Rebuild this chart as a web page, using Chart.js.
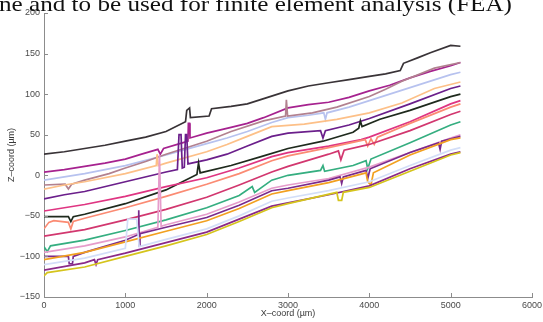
<!DOCTYPE html>
<html><head><meta charset="utf-8">
<script src="https://cdn.jsdelivr.net/npm/chart.js@4.4.0/dist/chart.umd.min.js"></script>
<style>
html,body{margin:0;padding:0;background:#fff;overflow:hidden;}
#wrap{position:relative;width:543px;height:322px;overflow:hidden;}
#cap{position:absolute;left:-1px;top:-7px;font-family:"Liberation Serif","Times New Roman",serif;font-size:22px;line-height:22px;white-space:nowrap;color:#111;transform-origin:0 0;}
canvas{position:absolute;left:0;top:0;}
</style></head><body>
<div id="wrap"><canvas id="c" width="543" height="322"></canvas><div id="cap">ne and to be used for finite element analysis (FEA)</div></div>
<script>
// ---- data (x in µm, z in µm) ----
const xTicks = [0, 1000, 2000, 3000, 4000, 5000, 6000];
const yTicks = [-150, -100, -50, 0, 50, 100, 150, 200];
const xTitle = 'X\u2013coord (\u00b5m)';
const yTitle = 'Z\u2013coord (\u00b5m)';

const profBlack = [[0,26],[250,29],[500,33],[750,37],[1000,42],[1250,47],[1500,54],[1740,66],[1755,80],[1790,83],[1800,71],[2030,73],[2060,82],[2300,85],[2500,88],[2750,96],[3000,104],[3250,110],[3500,114],[3750,118],[4000,122],[4200,125],[4380,129],[4420,138],[4600,145],[4750,151],[5000,160],[5120,159]];
const profMagenta = [[0,4],[250,7],[500,11],[750,15],[1000,20],[1200,26],[1400,32],[1430,26],[1470,33],[1700,40],[1770,42],[1775,64],[1790,64],[1795,46],[2000,52],[2300,59],[2500,64],[2700,71],[3000,83],[3250,87],[3500,90],[3750,96],[4000,104],[4250,111],[4500,120],[4750,128],[5000,135],[5120,139]];
const profLavender = [[0,-6],[250,-2],[500,2],[1000,12],[1500,25],[2000,39],[2250,46],[2500,54],[2800,65],[3000,71],[3250,74],[3440,77],[3460,69],[3480,77],[3750,84],[4000,92],[4500,108],[5000,124],[5120,127]];
const profMauve = [[0,-12],[260,-11],[300,-17],[340,-11],[500,-6],[800,2],[1000,9],[1250,17],[1500,26],[2000,42],[2300,54],[2700,67],[2970,73],[2980,93],[2995,73],[3300,77],[3600,84],[4000,97],[4200,106],[4400,116],[4800,132],[5120,139]];
const profPeach = [[0,-17],[250,-12],[500,-8],[1000,2],[1380,12],[1390,26],[1405,12],[1500,15],[2000,29],[2250,38],[2500,48],[2800,60],[3200,63],[3600,69],[4000,77],[4400,89],[4800,107],[5120,115]];
const profPurple = [[0,-29],[250,-24],[500,-20],[1000,-8],[1500,4],[1640,7],[1660,50],[1685,50],[1700,9],[1725,10],[1740,50],[1755,50],[1770,14],[2000,19],[2250,26],[2500,36],[2800,48],[3000,52],[3400,55],[3430,46],[3460,55],[3750,62],[4000,70],[4500,88],[5000,107],[5120,110]];
const profBlackGreen = [[0,-51],[300,-51],[330,-57],[360,-51],[500,-48],[1000,-35],[1500,-18],[1880,1],[1900,15],[1920,3],[2300,12],[2700,24],[3000,33],[3430,42],[3800,53],[3870,58],[3890,67],[3910,60],[4130,69],[4500,80],[5000,97],[5120,100]];
const profDeepPink = [[0,-44],[500,-36],[1000,-26],[1500,-14],[2000,-3],[2400,9],[2800,23],[3000,28],[3500,36],[3900,44],[4000,47],[4500,66],[5000,88],[5120,92]];
const profSalmon = [[0,-66],[60,-58],[120,-56],[300,-58],[330,-66],[360,-57],[500,-53],[1000,-40],[1500,-26],[2000,-11],[2400,2],[2800,18],[3000,24],[3500,34],[3950,44],[3980,36],[4020,45],[4060,38],[4100,47],[4500,64],[5000,84],[5120,88]];
const profCrimson = [[0,-75],[500,-67],[1000,-55],[1500,-42],[2000,-27],[2400,-12],[2800,4],[3000,11],[3500,26],[3620,30],[3650,19],[3690,31],[4000,38],[4500,55],[5000,75],[5120,79]];
const profGreen = [[0,-88],[40,-94],[80,-87],[500,-80],[1000,-68],[1500,-55],[2000,-40],[2400,-25],[2560,-14],[2590,-21],[2800,-6],[3000,0],[3400,6],[3430,12],[3450,5],[3800,12],[3960,18],[3980,8],[4020,20],[4500,40],[5000,62],[5120,66]];
const profLightPink = [[0,-95],[500,-87],[1000,-76],[1400,-64],[1420,25],[1440,-63],[1500,-61],[2000,-48],[2400,-33],[2800,-16],[3000,-12],[3500,-4],[4000,10],[4500,28],[5000,46],[5120,50]];
const profPurple2 = [[0,-100],[300,-100],[310,-109],[350,-109],[360,-100],[500,-95],[1000,-80],[1160,-73],[1165,-43],[1172,-87],[1180,-72],[1500,-64],[2000,-52],[2400,-37],[2800,-19],[3000,-16],[3500,-6],[3640,-2],[3660,-10],[3680,-2],[3960,6],[3980,-4],[4010,8],[4500,28],[4850,40],[4870,32],[4890,42],[5120,48]];
const profOrange = [[0,-104],[500,-95],[1000,-82],[1500,-69],[2000,-56],[2400,-41],[2800,-23],[3000,-19],[3500,-9],[3960,3],[3980,-8],[4020,-12],[4050,3],[4500,25],[5000,44],[5120,46]];
const profPaleBlue = [[0,-110],[500,-102],[1000,-90],[1030,-54],[1140,-54],[1170,-88],[1500,-79],[2000,-66],[2400,-50],[2800,-32],[3000,-28],[3500,-19],[4000,-8],[4500,12],[5000,31],[5120,34]];
const profPurple3 = [[0,-117],[500,-108],[620,-104],[640,-110],[660,-104],[1000,-96],[1500,-83],[2000,-70],[2400,-54],[2800,-38],[3000,-34],[3500,-24],[4000,-13],[4500,8],[5000,26],[5120,29]];
const profYellow = [[0,-124],[40,-120],[500,-113],[1000,-100],[1500,-87],[2000,-73],[2400,-57],[2800,-40],[3000,-35],[3600,-21],[3620,-31],[3660,-31],[3680,-21],[4000,-15],[4500,5],[5000,25],[5120,28]];

const profiles = [profYellow, profPurple3, profPaleBlue, profOrange, profPurple2, profLightPink, profGreen, profCrimson, profSalmon, profDeepPink, profBlackGreen, profPurple, profPeach, profMauve, profLavender, profMagenta, profBlack];
const colors = ['#d5c41c','#8a2a88','#d3def8','#f2a020','#7a2a8c','#e69ccb','#35ae80','#d2376f','#fb8b73','#df3582','#1f2a1d','#6b1f8b','#fdc088','#b2818f','#b7c2ef','#a6228f','#393337'];

// ---- chart ----
const inTicks = {
  id: 'inTicks',
  afterDraw(chart) {
    const {ctx, chartArea: a, scales: {x, y}} = chart;
    ctx.save();
    ctx.strokeStyle = '#8c8c8c';
    ctx.lineWidth = 1;
    xTicks.forEach(v => {
      const px = Math.round(x.getPixelForValue(v)) + 0.5;
      ctx.beginPath(); ctx.moveTo(px, a.bottom); ctx.lineTo(px, a.bottom - 4); ctx.stroke();
    });
    yTicks.forEach(v => {
      const py = Math.round(y.getPixelForValue(v)) + 0.5;
      ctx.beginPath(); ctx.moveTo(a.left, py); ctx.lineTo(a.left + 4, py); ctx.stroke();
    });
    ctx.restore();
  }
};

const tickFont = {family: '"Liberation Sans", Arial, sans-serif', size: 9};
new Chart(document.getElementById('c'), {
  type: 'line',
  data: {
    datasets: profiles.map((p, i) => ({
      data: p.map(([x, z]) => ({x, y: z})),
      borderColor: colors[i],
      borderWidth: 1.7,
      pointRadius: 0,
      tension: 0,
      fill: false
    }))
  },
  options: {
    responsive: false,
    animation: false,
    events: [],
    layout: {padding: {top: 13, right: 11, left: 0, bottom: 0}},
    plugins: {legend: {display: false}, tooltip: {enabled: false}},
    scales: {
      x: {
        type: 'linear', min: 0, max: 6000,
        afterBuildTicks(s) { s.ticks = xTicks.map(v => ({value: v})); },
        ticks: {font: tickFont, color: '#4a4a4a', padding: 3, maxRotation: 0, autoSkip: false,
          callback: v => String(v)},
        grid: {display: false, drawTicks: false},
        border: {display: true, color: '#8c8c8c', width: 1},
        title: {display: true, text: xTitle, font: tickFont, color: '#3a3a3a', padding: {top: 0, bottom: 3}},
        afterFit(s) { s.height = 25; s.paddingLeft = 0; s.paddingRight = 0; }
      },
      y: {
        type: 'linear', min: -150, max: 200,
        afterBuildTicks(s) { s.ticks = yTicks.map(v => ({value: v})); },
        ticks: {font: tickFont, color: '#4a4a4a', padding: 4, autoSkip: false,
          callback: v => String(v).replace('-', '\u2212')},
        grid: {display: false, drawTicks: false},
        border: {display: true, color: '#8c8c8c', width: 1},
        title: {display: true, text: yTitle, font: tickFont, color: '#3a3a3a', padding: {top: 6, bottom: 0}},
        afterFit(s) { s.width = 44; s.paddingTop = 0; s.paddingBottom = 0; }
      }
    }
  },
  plugins: [inTicks]
});

// caption width fit
(function(){
  const cap = document.getElementById('cap');
  const w = cap.getBoundingClientRect().width;
  cap.style.transform = 'scaleX(' + (513 / w) + ')';
})();
</script>
</body></html>
